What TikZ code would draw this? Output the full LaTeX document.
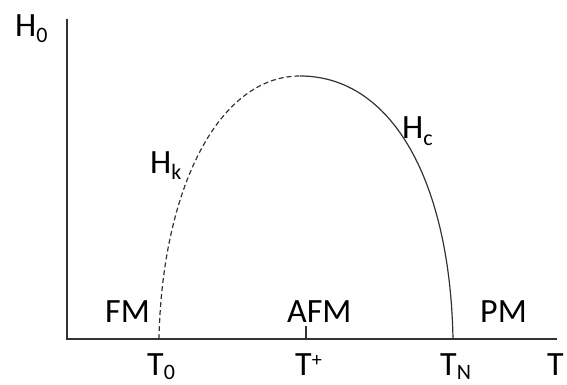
\documentclass[tikz,border=0pt]{standalone}
\usepackage{fontspec}
\setmainfont{Carlito}
\newcommand\sbs[1]{\raisebox{-6pt}{\fontsize{22}{22}\selectfont #1}}
\newcommand\sbb[1]{\raisebox{-4pt}{\fontsize{22}{22}\selectfont #1}}
\newcommand\sps[1]{\raisebox{9pt}{\fontsize{20}{20}\selectfont #1}}
\begin{document}
\begin{tikzpicture}[x=1pt,y=-1pt,
  lbl/.style={inner sep=0pt,anchor=base west,font=\fontsize{34}{34}\selectfont},
  axis/.style={draw=black!80,line width=1.4pt},
  curve/.style={draw=black!80,line width=1.2pt}]
\useasboundingbox (0,0) rectangle (567,385);
\coordinate (O) at (67,339);
\coordinate (Ytop) at (67,19);
\coordinate (Xend) at (557,339);
\coordinate (T0) at (159,339);
\coordinate (Tp) at (306,339);
\coordinate (Tptop) at (306,326);
\coordinate (TN) at (453,339);
\coordinate (peak) at (300,76);
\draw[axis] (Ytop) -- (O) -- (Xend);
\draw[axis] (Tp) -- (Tptop);
\draw[curve,dash pattern=on 5pt off 3pt] (T0) .. controls (162,190) and (218,76) .. (peak);
\draw[curve] (peak) .. controls (392,76) and (450,181) .. (TN);
\node[lbl] (h0) at (15,37) {H\sbs{0}};
\node[lbl] (fm) at (105,322) {FM};
\node[lbl] (afm) at (287,322) {AFM};
\node[lbl] (pm) at (480,322) {PM};
\node[lbl] (t0) at (147,375) {T\sbb{0}};
\node[lbl] (tp) at (295,375) {T\sps{+}};
\node[lbl] (tn) at (440,375) {T\sbb{N}};
\node[lbl] (t) at (547,375) {T};
\node[lbl] (hk) at (150,173) {H\sbs{k}};
\node[lbl] (hc) at (402,139) {H\sbs{c}};
\end{tikzpicture}
\end{document}
